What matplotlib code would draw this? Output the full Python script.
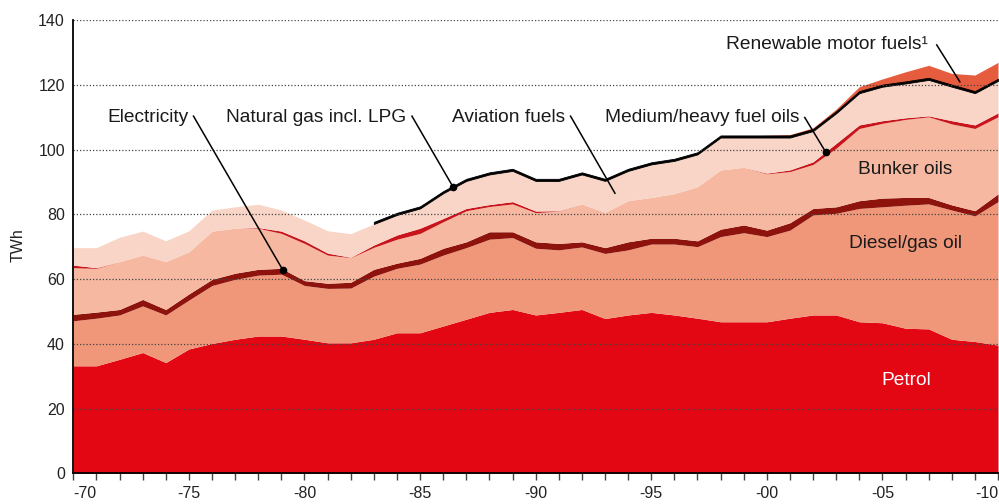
import numpy as np
import matplotlib
matplotlib.use("Agg")
import matplotlib.pyplot as plt

plt.rcParams['font.family'] = ['Liberation Sans', 'DejaVu Sans']

years = list(range(1970, 2011))

petrol = [33.2, 33.2, 35.2, 37.3, 34.2, 38.4, 40.1, 41.4, 42.4, 42.4,
          41.4, 40.3, 40.3, 41.4, 43.4, 43.4, 45.5, 47.6, 49.7, 50.6,
          48.9, 49.7, 50.6, 47.8, 48.9, 49.7, 48.9, 47.9, 46.8, 46.8,
          46.8, 47.9, 48.9, 48.9, 46.8, 46.5, 44.8, 44.6, 41.4, 40.7, 39.6]
diesel = [13.9, 14.7, 13.7, 14.4, 14.7, 15.1, 17.9, 18.5, 18.8, 19.1,
          16.6, 16.8, 16.9, 19.5, 19.9, 21.2, 21.9, 22.1, 22.6, 22.2,
          20.6, 19.3, 19.3, 20.1, 20.1, 21.1, 21.9, 22.1, 26.3, 27.5,
          26.3, 27.2, 30.9, 31.4, 35.0, 35.8, 38.0, 38.6, 39.9, 38.8, 44.3]
electricity = [2.0, 1.9, 1.7, 2.0, 1.7, 1.9, 1.9, 1.9, 1.8, 1.8,
               1.5, 1.6, 1.8, 2.1, 1.6, 1.8, 2.1, 1.8, 2.3, 1.8,
               2.0, 2.0, 1.6, 1.8, 2.5, 1.8, 1.8, 1.8, 2.3, 2.4,
               2.0, 2.3, 2.0, 2.0, 2.4, 2.7, 2.4, 2.0, 1.6, 1.6, 2.4]
bunker = [14.4, 13.5, 14.8, 13.7, 14.8, 13.0, 14.9, 13.9, 12.7, 10.8,
          11.5, 8.7, 7.6, 6.8, 7.4, 7.7, 8.2, 9.6, 7.8, 8.6,
          9.0, 10.0, 11.7, 10.9, 12.7, 12.6, 13.8, 16.7, 18.3, 17.8,
          17.4, 15.8, 13.6, 18.1, 22.3, 23.1, 24.1, 24.9, 25.0, 25.4, 23.8]
medheavy = [0.8, 0.2, 0, 0, 0, 0, 0, 0, 0.2, 0.7,
            0.8, 0.6, 0.1, 0.7, 1.3, 1.6, 1.0, 0.7, 0.6, 0.7,
            0.5, 0.1, 0, 0, 0, 0, 0, 0, 0, 0,
            0.2, 0.5, 0.8, 1.5, 1.1, 0.8, 0.5, 0.3, 1.0, 1.1, 1.2]
aviation = [5.4, 6.2, 7.5, 7.4, 6.4, 6.5, 6.5, 6.6, 7.2, 6.5,
            6.4, 6.9, 7.3, 6.5, 6.2, 6.1, 7.8, 8.5, 9.3, 9.5,
            9.3, 9.2, 9.1, 9.7, 9.2, 10.2, 10.1, 10.0, 10.0, 9.2,
            11.0, 10.0, 9.5, 9.3, 9.8, 10.5, 10.6, 11.1, 10.5, 9.8, 9.9]
natgas = [None] * 13 + [0.5] * 28
renewable = [0] * 30 + [0.2, 0.4, 0.5, 0.8, 1.5, 1.9, 3.1, 4.0, 3.6, 5.1, 5.2]

layers = [petrol, diesel, electricity, bunker, medheavy, aviation, natgas, renewable]
colors = ['#e30613', '#f0977a', '#8e130c', '#f6b8a0', '#c8151b', '#f9d5c7', '#000000', '#e65c3e']

xtick_labels = ['-70', '-75', '-80', '-85', '-90', '-95', '-00', '-05', '-10']

fig = plt.figure(figsize=(9.99, 5.04), dpi=100)
ax = fig.add_axes([73.3 / 999, 1 - 473.3 / 504, (998 - 73.3) / 999, (473.3 - 20) / 504])

x = np.array(years, dtype=float)
base = np.zeros(len(x))
for vals, col in zip(layers, colors):
    v = np.array([np.nan if a is None else a for a in vals], dtype=float)
    top = base + np.nan_to_num(v)
    mask = ~np.isnan(v)
    if col == '#000000':
        ax.fill_between(x[mask], base[mask], top[mask] + 0.15, color=col, lw=0.6,
                        edgecolor=col, zorder=1.2)
    else:
        ax.fill_between(x, base, top, color=col, lw=0, zorder=1)
    base = top

ax.set_xlim(1970, 2010)
ax.set_ylim(0, 140)
ax.set_yticks(range(0, 141, 20))
ax.set_xticks(range(1970, 2011, 5))
ax.set_xticklabels(xtick_labels)
ax.set_xticks(range(1970, 2011), minor=True)
for lab in ax.get_xticklabels():
    lab.set_ha('center')
labs = ax.get_xticklabels()
labs[0].set_ha('left')
labs[-1].set_ha('right')

ax.tick_params(axis='x', which='both', length=5, width=1, color='#444444',
               labelsize=11.5, pad=4, labelcolor='#222222')
ax.tick_params(axis='y', length=0, pad=6, labelsize=11.5, labelcolor='#222222')

ax.set_axisbelow(False)
ax.yaxis.grid(True, linestyle=(0, (1, 1.6)), color='#444444', lw=0.9)
ax.xaxis.grid(False)
for s in ['top', 'right']:
    ax.spines[s].set_visible(False)
for s in ['left', 'bottom']:
    ax.spines[s].set_linewidth(1.3)
    ax.spines[s].set_color('black')
    ax.spines[s].set_zorder(4)

fig.text(18.5 / 999, 1 - 245 / 504, 'TWh', rotation=90, ha='center', va='center',
         fontsize=11.5, color='#222222')

fs = 13.8
tc = '#1a1a1a'
# leader labels
ax.text(1974.97, 110.0, 'Electricity', ha='right', va='center', fontsize=fs, color=tc)
ax.plot([1975.2, 1979.07], [110.3, 62.7], color='black', lw=1.1, zorder=5)
ax.plot([1979.07], [62.7], 'o', color='black', ms=4.5, zorder=6)

ax.text(1984.4, 110.0, 'Natural gas incl. LPG', ha='right', va='center', fontsize=fs, color=tc)
ax.plot([1984.65, 1986.43], [110.3, 88.4], color='black', lw=1.1, zorder=5)
ax.plot([1986.43], [88.4], 'o', color='black', ms=4.5, zorder=6)

ax.text(1991.26, 110.0, 'Aviation fuels', ha='right', va='center', fontsize=fs, color=tc)
ax.plot([1991.51, 1993.43], [110.3, 86.5], color='black', lw=1.1, zorder=5)

ax.text(2001.4, 110.0, 'Medium/heavy fuel oils', ha='right', va='center', fontsize=fs, color=tc)
ax.plot([2001.64, 2002.54], [109.9, 99.3], color='black', lw=1.1, zorder=5)
ax.plot([2002.54], [99.3], 'o', color='black', ms=4.5, zorder=6)

ax.text(2006.96, 132.3, 'Renewable motor fuels\u00b9', ha='right', va='center', fontsize=fs, color=tc)
ax.plot([2007.35, 2008.35], [132.3, 120.9], color='black', lw=1.1, zorder=5)

ax.text(2006.0, 93.8, 'Bunker oils', ha='center', va='center', fontsize=fs, color=tc)
ax.text(2006.0, 71.1, 'Diesel/gas oil', ha='center', va='center', fontsize=fs, color=tc)
ax.text(2006.05, 28.8, 'Petrol', ha='center', va='center', fontsize=fs, color='white')

fig.savefig('out.png', dpi=100)
